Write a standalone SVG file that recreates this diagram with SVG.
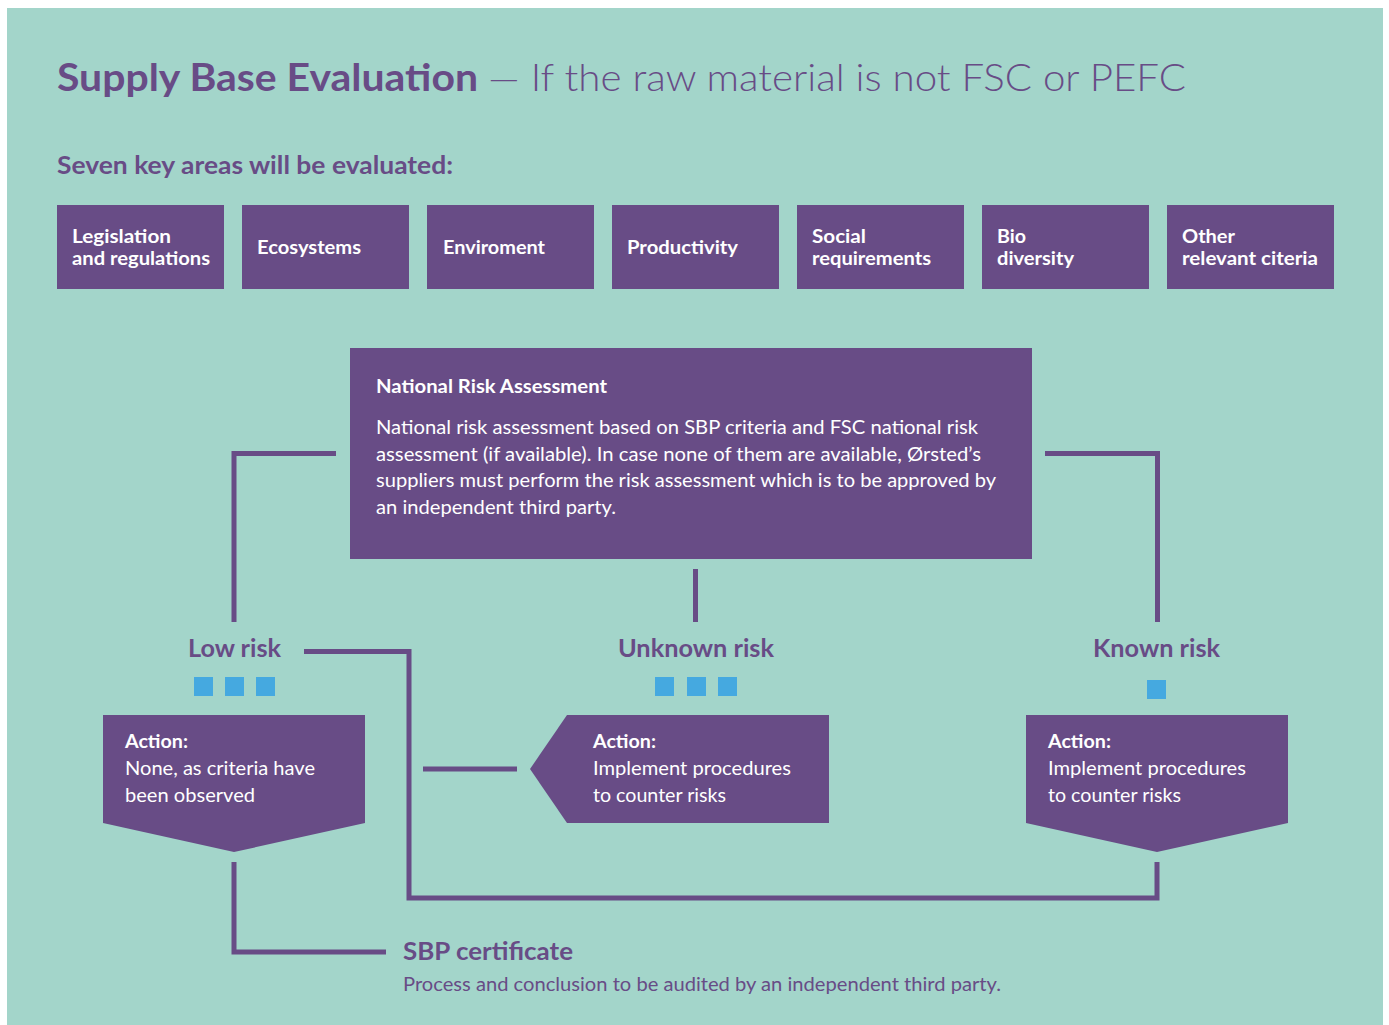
<svg xmlns="http://www.w3.org/2000/svg" width="1389" height="1025" viewBox="0 0 1389 1025">
<style>
  .bg { fill: #A3D5CA; }
  .box { fill: #684C86; }
  .sq { fill: #45A9E0; }
  .conn { fill: none; stroke: #684C86; stroke-width: 5; stroke-linejoin: miter; stroke-linecap: butt; }
  .t { font-family: Lato, "Liberation Sans", sans-serif; }
  .purple { fill: #684C86; }
  .white { fill: #FFFFFF; }
  .b { font-weight: 700; }
  .r { font-weight: 400; }
  .l { font-weight: 300; }
  .lab { font-size: 19px; }
  .body { font-size: 18.5px; }
  .risk { font-size: 24px; }
</style>
<rect class="bg" x="7" y="8" width="1376" height="1017"/>

<g id="title">
  <text class="t purple b" x="57" y="91" font-size="38" textLength="421" lengthAdjust="spacingAndGlyphs">Supply Base Evaluation</text>
  <text class="t purple l" x="488" y="91" font-size="38" textLength="698" lengthAdjust="spacingAndGlyphs">— If the raw material is not FSC or PEFC</text>
</g>
<g id="subtitle">
  <text class="t purple b" x="57" y="174" font-size="24" textLength="396" lengthAdjust="spacingAndGlyphs">Seven key areas will be evaluated:</text>
</g>

<g id="area-legislation">
  <rect class="box" x="57" y="205" width="167" height="84"/>
  <text class="t white b lab" x="72" y="243" textLength="99" lengthAdjust="spacingAndGlyphs">Legislation</text>
  <text class="t white b lab" x="72" y="265" textLength="138" lengthAdjust="spacingAndGlyphs">and regulations</text>
</g>
<g id="area-ecosystems">
  <rect class="box" x="242" y="205" width="167" height="84"/>
  <text class="t white b lab" x="257" y="254" textLength="104" lengthAdjust="spacingAndGlyphs">Ecosystems</text>
</g>
<g id="area-enviroment">
  <rect class="box" x="427" y="205" width="167" height="84"/>
  <text class="t white b lab" x="443" y="254" textLength="102" lengthAdjust="spacingAndGlyphs">Enviroment</text>
</g>
<g id="area-productivity">
  <rect class="box" x="612" y="205" width="167" height="84"/>
  <text class="t white b lab" x="627" y="254" textLength="111" lengthAdjust="spacingAndGlyphs">Productivity</text>
</g>
<g id="area-social">
  <rect class="box" x="797" y="205" width="167" height="84"/>
  <text class="t white b lab" x="812" y="243" textLength="54" lengthAdjust="spacingAndGlyphs">Social</text>
  <text class="t white b lab" x="812" y="265" textLength="119" lengthAdjust="spacingAndGlyphs">requirements</text>
</g>
<g id="area-biodiversity">
  <rect class="box" x="982" y="205" width="167" height="84"/>
  <text class="t white b lab" x="997" y="243" textLength="29" lengthAdjust="spacingAndGlyphs">Bio</text>
  <text class="t white b lab" x="997" y="265" textLength="77" lengthAdjust="spacingAndGlyphs">diversity</text>
</g>
<g id="area-other">
  <rect class="box" x="1167" y="205" width="167" height="84"/>
  <text class="t white b lab" x="1182" y="243" textLength="53" lengthAdjust="spacingAndGlyphs">Other</text>
  <text class="t white b lab" x="1182" y="265" textLength="136" lengthAdjust="spacingAndGlyphs">relevant citeria</text>
</g>

<g id="connectors">
  <path class="conn" d="M336,453.5 H234 V622"/>
  <path class="conn" d="M1045,453.5 H1157.5 V622"/>
  <path class="conn" d="M695.5,569 V622"/>
  <path class="conn" d="M304,651.5 H409 V898 H1157 V862"/>
  <path class="conn" d="M423,769 H517"/>
  <path class="conn" d="M234,862 V952 H386"/>
</g>

<g id="national-risk-assessment">
  <rect class="box" x="350" y="348" width="682" height="211"/>
  <text class="t white b" x="376" y="393" font-size="18" textLength="231" lengthAdjust="spacingAndGlyphs">National Risk Assessment</text>
  <text class="t white r body" x="376" y="434" textLength="602" lengthAdjust="spacingAndGlyphs">National risk assessment based on SBP criteria and FSC national risk</text>
  <text class="t white r body" x="376" y="460.5" textLength="605" lengthAdjust="spacingAndGlyphs">assessment (if available). In case none of them are available, Ørsted’s</text>
  <text class="t white r body" x="376" y="487" textLength="620" lengthAdjust="spacingAndGlyphs">suppliers must perform the risk assessment which is to be approved by</text>
  <text class="t white r body" x="376" y="513.5" textLength="240" lengthAdjust="spacingAndGlyphs">an independent third party.</text>
</g>

<g id="low-risk">
  <text class="t purple b risk" x="188" y="657" textLength="93" lengthAdjust="spacingAndGlyphs">Low risk</text>
  <rect class="sq" x="194" y="677" width="19" height="19"/>
  <rect class="sq" x="225" y="677" width="19" height="19"/>
  <rect class="sq" x="256" y="677" width="19" height="19"/>
  <polygon class="box" points="103,715 365,715 365,823 234,852 103,823"/>
  <text class="t white b lab" x="125" y="748" textLength="63" lengthAdjust="spacingAndGlyphs">Action:</text>
  <text class="t white r lab" x="125" y="775" textLength="190" lengthAdjust="spacingAndGlyphs">None, as criteria have</text>
  <text class="t white r lab" x="125" y="802" textLength="130" lengthAdjust="spacingAndGlyphs">been observed</text>
</g>

<g id="unknown-risk">
  <text class="t purple b risk" x="618" y="657" textLength="156" lengthAdjust="spacingAndGlyphs">Unknown risk</text>
  <rect class="sq" x="655" y="677" width="19" height="19"/>
  <rect class="sq" x="687" y="677" width="19" height="19"/>
  <rect class="sq" x="718" y="677" width="19" height="19"/>
  <polygon class="box" points="567,715 829,715 829,823 567,823 530,769"/>
  <text class="t white b lab" x="593" y="748" textLength="63" lengthAdjust="spacingAndGlyphs">Action:</text>
  <text class="t white r lab" x="593" y="775" textLength="198" lengthAdjust="spacingAndGlyphs">Implement procedures</text>
  <text class="t white r lab" x="593" y="802" textLength="133" lengthAdjust="spacingAndGlyphs">to counter risks</text>
</g>

<g id="known-risk">
  <text class="t purple b risk" x="1093" y="657" textLength="127" lengthAdjust="spacingAndGlyphs">Known risk</text>
  <rect class="sq" x="1147" y="680" width="19" height="19"/>
  <polygon class="box" points="1026,715 1288,715 1288,823 1157,852 1026,823"/>
  <text class="t white b lab" x="1048" y="748" textLength="63" lengthAdjust="spacingAndGlyphs">Action:</text>
  <text class="t white r lab" x="1048" y="775" textLength="198" lengthAdjust="spacingAndGlyphs">Implement procedures</text>
  <text class="t white r lab" x="1048" y="802" textLength="133" lengthAdjust="spacingAndGlyphs">to counter risks</text>
</g>

<g id="sbp-certificate">
  <text class="t purple b risk" x="403" y="960" textLength="170" lengthAdjust="spacingAndGlyphs">SBP certificate</text>
  <text class="t purple r" x="403" y="991" font-size="18.5" textLength="598" lengthAdjust="spacingAndGlyphs">Process and conclusion to be audited by an independent third party.</text>
</g>
</svg>
